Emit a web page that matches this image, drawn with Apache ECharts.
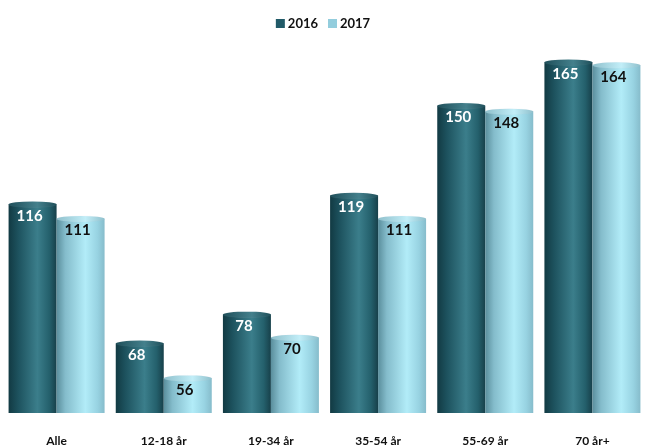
<!DOCTYPE html>
<html>
<head>
<meta charset="utf-8">
<script src="https://cdn.jsdelivr.net/npm/echarts@6/dist/echarts.min.js"></script>
<style>
  html, body { margin: 0; padding: 0; background: #fff; }
  #chart { width: 646px; height: 448px; }
</style>
</head>
<body>
<div id="chart"></div>
<script>
// Daily minutes by age group, 2016 vs 2017
const categories = ['Alle', '12-18 år', '19-34 år', '35-54 år', '55-69 år', '70 år+'];
const seriesNames = ['2016', '2017'];
const values2016 = [116, 68, 78, 119, 150, 165];
const values2017 = [111, 56, 70, 111, 148, 164];
const titleText = 'Daglig tidsbruk og seing pr. gruppe, i minutter pr. person';

const FONT = 'Lato, "Open Sans", sans-serif';
const BAR_W = 48;

function hGrad(stops) {
  return new echarts.graphic.LinearGradient(0, 0, 1, 0,
    stops.map(s => ({ offset: s[0], color: s[1] })));
}

// cylinder shading for each year
const darkBody = hGrad([[0, '#123a43'], [0.2, '#1d525e'], [0.6, '#3b7e8b'], [0.85, '#24606c'], [1, '#17404a']]);
const lightBody = hGrad([[0, '#5a8e9c'], [0.18, '#84bccb'], [0.6, '#b2ecf8'], [0.85, '#98d3e2'], [1, '#86bccb']]);
const darkTop = hGrad([[0, '#1f4f5a'], [0.6, '#44808c'], [1, '#1f4f5a']]);
const lightTop = hGrad([[0, '#8fc0cc'], [0.6, '#c2eef8'], [1, '#8fc0cc']]);

function cylinderBar(name, data, body, labelColor) {
  return {
    name: name,
    type: 'bar',
    data: data,
    barWidth: BAR_W,
    barGap: '0%',
    itemStyle: { color: body },
    label: {
      show: true,
      position: 'insideTop',
      distance: 4,
      offset: [-3, 0],
      color: labelColor,
      fontFamily: FONT,
      fontWeight: 'bold',
      fontSize: 15
    },
    z: 2
  };
}

function cap(data, pos, offsetX, fill, yOff, border) {
  return {
    type: 'pictorialBar',
    data: data,
    symbol: 'circle',
    symbolSize: [BAR_W, 6],
    symbolPosition: pos,
    symbolOffset: [offsetX, yOff],
    itemStyle: { color: fill, borderColor: border, borderWidth: border ? 1 : 0 },
    silent: true,
    legendHoverLink: false,
    z: pos === 'end' ? 3 : 1,
    tooltip: { show: false }
  };
}

const chart = echarts.init(document.getElementById('chart'), null, { renderer: 'canvas' });
chart.setOption({
  animation: false,
  backgroundColor: '#ffffff',
  title: {
    text: titleText,
    left: 'center',
    top: -23,
    textStyle: { fontFamily: FONT, fontWeight: 'bold', fontSize: 18, color: '#111' }
  },
  legend: {
    data: [
      { name: '2016', itemStyle: { color: '#215a68' } },
      { name: '2017', itemStyle: { color: '#93cddd' } }
    ],
    top: 12,
    left: 'center',
    icon: 'rect',
    itemWidth: 9,
    itemHeight: 9,
    itemGap: 10,
    textStyle: { fontFamily: FONT, fontWeight: 'bold', fontSize: 13, color: '#111', padding: [0, 0, 0, -2] }
  },
  grid: { left: 3, width: 653, top: 13, bottom: 35 },
  xAxis: {
    type: 'category',
    data: categories,
    axisLine: { show: false },
    axisTick: { show: false },
    axisLabel: { margin: 22, fontFamily: FONT, fontWeight: 'bold', fontSize: 12, color: '#111' }
  },
  yAxis: {
    type: 'value',
    min: 44,
    max: 182,
    show: false,
    splitLine: { show: false }
  },
  series: [
    cylinderBar(seriesNames[0], values2016, darkBody, '#ffffff'),
    cylinderBar(seriesNames[1], values2017, lightBody, '#111111'),
    cap(values2016, 'end', -BAR_W / 2, darkTop, '-50%', 'rgba(175,185,188,0.9)'),
    cap(values2017, 'end', BAR_W / 2, lightTop, '-50%', 'rgba(185,195,198,0.9)'),
    cap(values2016, 'start', -BAR_W / 2, darkBody, '50%', null),
    cap(values2017, 'start', BAR_W / 2, lightBody, '50%', null)
  ]
});
</script>
</body>
</html>
